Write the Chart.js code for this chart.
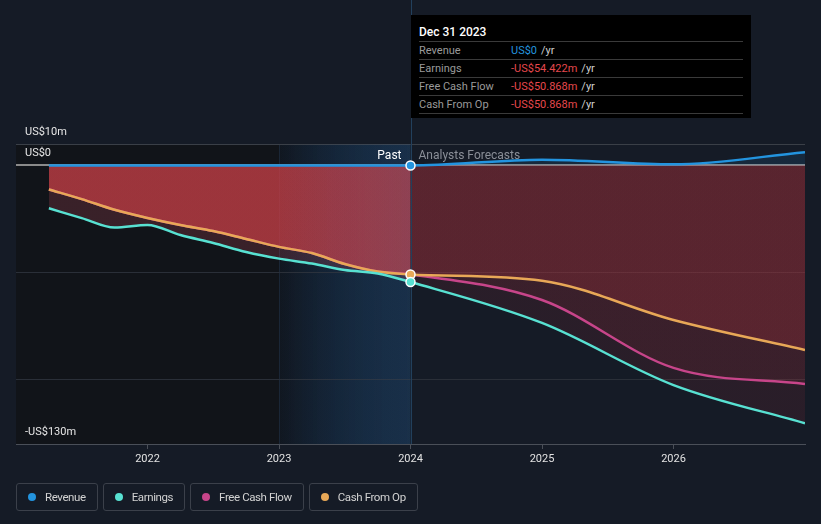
<!DOCTYPE html>
<html>
<head>
<meta charset="utf-8">
<script src="https://cdn.jsdelivr.net/npm/chart.js@4.4.1/dist/chart.umd.min.js"></script>
<style>
  html, body { margin: 0; padding: 0; background: #151b26; }
  body { font-family: Roboto, "Noto Sans", sans-serif; }
  #wrap { position: relative; width: 821px; height: 524px; overflow: hidden; }
  #tip {
    position: absolute; top: 15px; left: 410px; width: 340px; height: 103px;
    background: #000; box-sizing: border-box; padding: 8px 8px 0 8px;
    font-size: 11px; color: #9a9a9a;
  }
  #tip .t { color: #fff; font-size: 12px; font-weight: 500; height: 18px; line-height: 18px; border-bottom: 1px solid #3a3a3a; }
  #tip .r { height: 17px; line-height: 17px; border-bottom: 1px solid #3a3a3a; display: flex; }
  #tip .l { width: 92px; }
  #tip .v { margin-right: 4px; }
  #tip .u { color: #cfcfcf; }
  #legend { position: absolute; left: 16px; top: 483px; display: flex; gap: 5px; }
  #legend .it {
    height: 28px; box-sizing: border-box; border: 1px solid #3b404a; border-radius: 3px;
    display: flex; align-items: center; padding: 0 11px 0 11px;
    font-size: 11.5px; letter-spacing: -0.4px; color: #d2d2d2;
  }
  #legend .dot { width: 8px; height: 8px; border-radius: 50%; margin-right: 9px; }
</style>
</head>
<body>
<div id="wrap">
  <canvas id="c" width="821" height="524"></canvas>
  <div id="tip"></div>
  <div id="legend"></div>
</div>
<script>
// quarterly history, then annual analyst forecasts (decimal years)
const pastYears = [2021.25, 2021.5, 2021.75, 2022, 2022.25, 2022.5, 2022.75, 2023, 2023.25, 2023.5, 2023.75, 2024];
const forecastYears = [2025, 2026, 2027];

// values in US$m
const revenue  = [0, 0, 0, 0, 0, 0, 0, 0, 0, 0, 0, 0, 2.7, 0.5, 6.2];
const earnings = [-20, -24.6, -29, -27.8, -32.5, -36.2, -40.4, -43.5, -45.8, -48.8, -50.4, -54.422, -73.5, -102.5, -120.3];
const freeCashFlow = [-11.2, -15.7, -20.7, -24.5, -27.8, -30.6, -34.3, -38, -40.9, -46, -49.5, -50.868, -62.8, -94.5, -102];
const cashFromOp   = [-11.2, -15.7, -20.7, -24.5, -27.8, -30.6, -34.3, -38, -40.9, -46, -49.5, -50.868, -53.8, -72.1, -86.1];

const xTicks = [2022, 2023, 2024, 2025, 2026];
const yTicks = [-130, -100, -50, 0, 10];
const yLabelValues = [10, 0, -130];
const yLabelTexts = ['US$10m', 'US$0', '-US$130m'];

const tipTitle = 'Dec 31 2023';
const bandStart = 2023;
const pastEnd = 2024;

const years = pastYears.concat(forecastYears);
const nowIdx = pastYears.length - 1;
const pts = arr => years.map((x, i) => ({ x, y: arr[i] }));

const colors = {
    revenue: '#2394df',
    earnings: '#58e1d2',
    fcf: '#c7458a',
    cfo: '#e8a857'
};

function split(pastCol, futureCol) {
    return c => {
        const ch = c.chart;
        const a = ch.chartArea;
        if (!a) return pastCol;
        const x = ch.scales.x.getPixelForValue(pastEnd);
        const f = Math.min(1, Math.max(0, (x - a.left) / (a.right - a.left)));
        const g = ch.ctx.createLinearGradient(a.left, 0, a.right, 0);
        g.addColorStop(0, pastCol);
        g.addColorStop(f, pastCol);
        g.addColorStop(f, futureCol);
        g.addColorStop(1, futureCol);
        return g;
    };
}

function series(label, data, color, fillPast, fillFuture, showPoint) {
    return {
        label,
        data: pts(data),
        borderColor: color,
        borderWidth: 2.5,
        backgroundColor: split(fillPast, fillFuture),
        fill: 'origin',
        cubicInterpolationMode: 'monotone',
        pointRadius: c => (showPoint && c.dataIndex === nowIdx ? 4.5 : 0),
        pointBackgroundColor: color,
        pointBorderColor: '#fff',
        pointBorderWidth: 1.5,
        pointHoverRadius: 0
    };
}

const decor = {
    id: 'decor',
    beforeDraw(chart) {
        const { ctx, chartArea: a, scales } = chart;
        const x23 = scales.x.getPixelForValue(bandStart);
        const x24 = scales.x.getPixelForValue(pastEnd);
        ctx.save();
        ctx.fillStyle = '#111419';
        ctx.fillRect(a.left, a.top, x23 - a.left, a.bottom - a.top);
        const g = ctx.createLinearGradient(x23, 0, x24, 0);
        g.addColorStop(0, 'rgba(14,20,28,0.55)');
        g.addColorStop(1, 'rgba(16,70,120,0.22)');
        ctx.fillStyle = g;
        ctx.fillRect(x23, a.top, x24 - x23, a.bottom - a.top);
        ctx.lineWidth = 1;
        ctx.strokeStyle = '#1a2636';
        ctx.beginPath();
        ctx.moveTo(Math.round(x23) + 0.5, a.top);
        ctx.lineTo(Math.round(x23) + 0.5, a.bottom);
        ctx.stroke();
        ctx.restore();
    },
    beforeDatasetsDraw(chart) {
        const { ctx, chartArea: a, scales } = chart;
        const x23 = scales.x.getPixelForValue(bandStart);
        const x24 = scales.x.getPixelForValue(pastEnd);
        ctx.save();
        // light blue wash over the last reported year, on top of the fills
        const g = ctx.createLinearGradient(x23, 0, x24, 0);
        g.addColorStop(0, 'rgba(60,120,180,0)');
        g.addColorStop(1, 'rgba(60,120,180,0.14)');
        ctx.fillStyle = g;
        ctx.fillRect(x23, a.top, x24 - x23, a.bottom - a.top);
        ctx.lineWidth = 1;
        ctx.strokeStyle = '#22405c';
        ctx.beginPath();
        ctx.moveTo(Math.round(x24) + 0.5, 0);
        ctx.lineTo(Math.round(x24) + 0.5, a.bottom);
        ctx.stroke();
        ctx.restore();
    },
    afterDatasetsDraw(chart) {
        const { ctx, chartArea: a, scales } = chart;
        const x24 = scales.x.getPixelForValue(pastEnd);
        ctx.save();
        ctx.textBaseline = 'middle';
        ctx.font = '11px Roboto, sans-serif';
        ctx.fillStyle = '#e6e6e6';
        ctx.textAlign = 'left';
        yLabelValues.forEach((v, i) => {
            ctx.fillText(yLabelTexts[i], a.left + 9, scales.y.getPixelForValue(v) - 12);
        });
        const yz = scales.y.getPixelForValue(0) - 9;
        ctx.font = '12px Roboto, sans-serif';
        ctx.textAlign = 'right';
        ctx.fillStyle = '#ffffff';
        ctx.fillText('Past', x24 - 9, yz);
        ctx.textAlign = 'left';
        ctx.fillStyle = '#8a8f98';
        ctx.fillText('Analysts Forecasts', x24 + 8, yz);
        ctx.restore();

        const tip = document.getElementById('tip');
        tip.style.left = Math.round(x24) + 'px';
    }
};

const datasets = [
    series('Revenue', revenue, colors.revenue, 'rgba(35,148,223,0.12)', 'rgba(35,148,223,0.12)', true),
    series('Earnings', earnings, colors.earnings, 'rgba(230,88,109,0.19)', 'rgba(180,50,60,0.13)', true),
    series('Cash From Op', cashFromOp, colors.cfo, 'rgba(190,55,58,0.46)', 'rgba(180,50,60,0.26)', true),
    series('Free Cash Flow', freeCashFlow, colors.fcf, 'rgba(190,55,58,0.46)', 'rgba(180,50,60,0.12)', false)
];

new Chart(document.getElementById('c').getContext('2d'), {
    type: 'line',
    data: { datasets },
    options: {
        responsive: false,
        animation: false,
        events: [],
        layout: { padding: { left: 16, right: 16, top: 144, bottom: 50 } },
        plugins: {
            legend: { display: false },
            tooltip: { enabled: false },
            filler: { drawTime: 'beforeDatasetsDraw' }
        },
        scales: {
            x: {
                type: 'linear',
                min: 2021,
                max: 2027,
                afterBuildTicks: s => { s.ticks = xTicks.map(v => ({ value: v })); },
                afterFit: s => { s.height = 30; },
                ticks: {
                    color: '#e2e2e2',
                    font: { family: 'Roboto', size: 11 },
                    padding: 4,
                    callback: v => String(v)
                },
                grid: { drawOnChartArea: false, tickLength: 5, color: '#4a4f58' },
                border: { color: '#4a4f58' }
            },
            y: {
                min: -130,
                max: 10,
                afterBuildTicks: s => { s.ticks = yTicks.map(v => ({ value: v })); },
                afterFit: s => { s.width = 0; },
                ticks: { display: false },
                border: { display: false },
                grid: {
                    drawTicks: false,
                    color: c => (c.tick.value === 0 ? '#8a8a8a' : c.tick.value === 10 ? '#3a3f47' : '#2a2f38'),
                    lineWidth: c => (c.tick.value === 0 ? 2 : 1)
                }
            }
        }
    },
    plugins: [decor]
});

// tooltip box for the last reported period
const fmt = v => (v === 0 ? 'US$0' : (v < 0 ? '-' : '') + 'US$' + Math.abs(v).toFixed(3) + 'm');
const tipRows = [
    ['Revenue', revenue[nowIdx], colors.revenue],
    ['Earnings', earnings[nowIdx], '#e5484d'],
    ['Free Cash Flow', freeCashFlow[nowIdx], '#e5484d'],
    ['Cash From Op', cashFromOp[nowIdx], '#e5484d']
];
const tipEl = document.getElementById('tip');
tipEl.innerHTML = '<div class="t">' + tipTitle + '</div>' + tipRows.map(r =>
    '<div class="r"><span class="l">' + r[0] + '</span><span class="v" style="color:' + (r[1] === 0 ? r[2] : '#e5484d') + '">' +
    fmt(r[1]) + '</span><span class="u">/yr</span></div>').join('');

// legend
const legendItems = [
    ['Revenue', colors.revenue],
    ['Earnings', colors.earnings],
    ['Free Cash Flow', colors.fcf],
    ['Cash From Op', colors.cfo]
];
document.getElementById('legend').innerHTML = legendItems.map(l =>
    '<div class="it"><span class="dot" style="background:' + l[1] + '"></span>' + l[0] + '</div>').join('');
</script>
</body>
</html>
